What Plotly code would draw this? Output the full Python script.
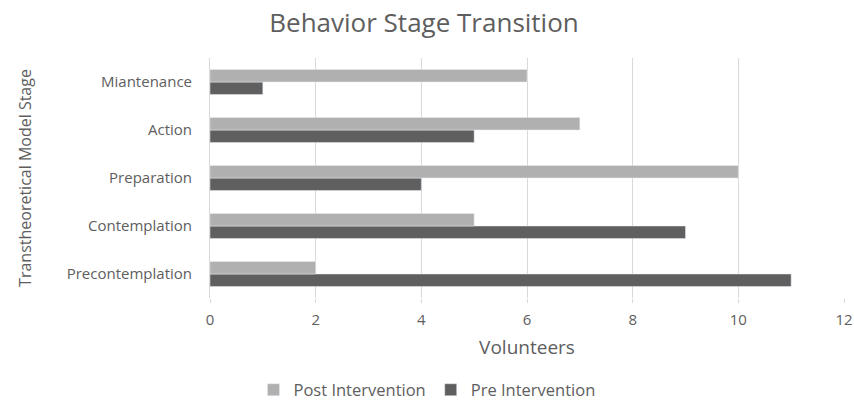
import plotly.graph_objects as go

stages = ["Precontemplation", "Contemplation", "Preparation", "Action", "Miantenance"]
post_vals = [2, 5, 10, 7, 6]
pre_vals = [11, 9, 4, 5, 1]
x_ticks = [0, 2, 4, 6, 8, 10, 12]

FONT = "Open Sans"
TXT = "#5e5e5e"

fig = go.Figure()
fig.add_trace(go.Bar(y=stages, x=pre_vals, orientation="h", name="Pre Intervention",
                     marker=dict(color="#5f5f5f")))
fig.add_trace(go.Bar(y=stages, x=post_vals, orientation="h", name="Post Intervention",
                     marker=dict(color="#b0b0b0")))

fig.update_layout(
    width=854, height=400,
    paper_bgcolor="white", plot_bgcolor="white",
    margin=dict(l=210, r=10, t=58, b=102),
    barmode="group", bargap=0.48, bargroupgap=0,
    font=dict(family=FONT, color=TXT, size=15),
    title=dict(text="Behavior Stage Transition", xref="container", x=0.4965, xanchor="center",
               yref="container", y=0.9425, yanchor="middle",
               font=dict(size=26, color=TXT, family=FONT)),
    xaxis=dict(range=[0, 12], tickvals=x_ticks, showgrid=True, gridcolor="#d9d9d9",
               gridwidth=1, zeroline=False, showline=False, automargin=False,
               ticks="outside", ticklen=4, tickcolor="#d9d9d9",
               ticklabelstandoff=4,
               tickfont=dict(size=15, color=TXT),
               title=dict(text="Volunteers", font=dict(size=19, color=TXT), standoff=12)),
    yaxis=dict(type="category", categoryorder="array", categoryarray=stages,
               showline=True, linecolor="#d9d9d9", linewidth=1, showgrid=False,
               ticks="", ticklabelstandoff=14, automargin=False,
               tickfont=dict(size=15, color=TXT),
               title=dict(text="Transtheoretical Model Stage", font=dict(size=16, color=TXT), standoff=31)),
    legend=dict(orientation="h", xref="container", x=0.5, xanchor="center",
                yref="container", y=0.025, yanchor="middle",
                traceorder="reversed", font=dict(size=16.5, color=TXT),
                itemwidth=30),
    showlegend=True,
)

fig.write_html("out.html", config={"displayModeBar": False},
               post_script="document.body.style.margin='0';")
